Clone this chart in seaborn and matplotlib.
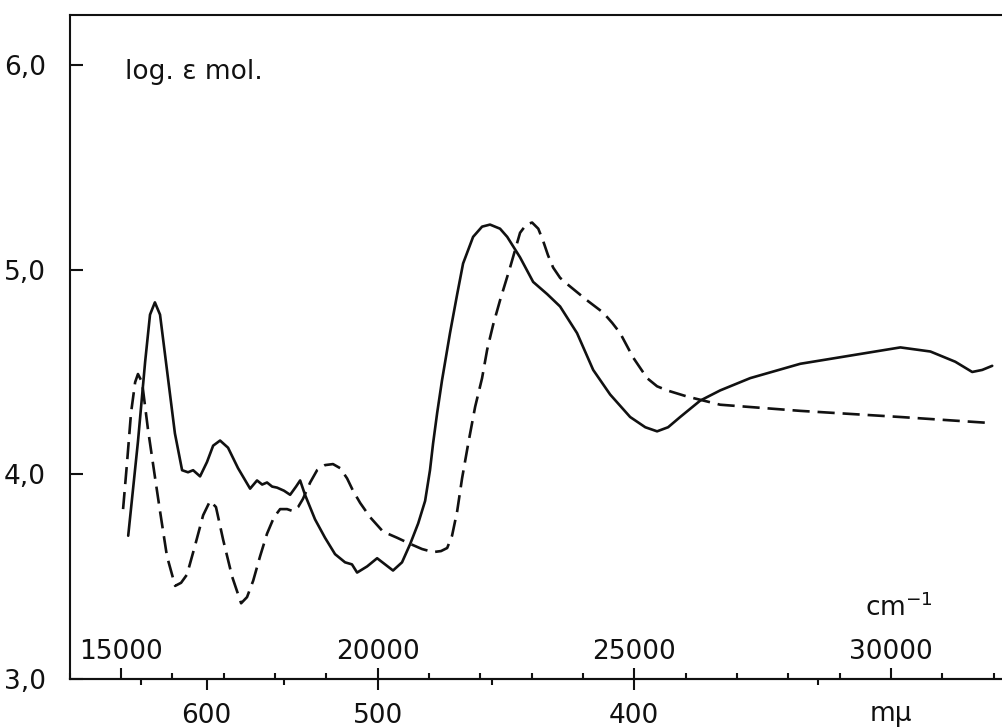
import numpy as np
import pandas as pd
import matplotlib
matplotlib.use("Agg")
import matplotlib.pyplot as plt
from matplotlib.ticker import FixedLocator
import seaborn as sns

# ---- data (wavenumber in cm^-1, log epsilon) ----
solid_nu = [15140, 15330, 15470, 15565, 15660, 15760, 15900, 16050, 16190, 16305,
            16405, 16540, 16675, 16795, 16930, 17085, 17280, 17515, 17650, 17750,
            17845, 17945, 18040, 18175, 18295, 18410, 18490, 18585, 18780, 18975,
            19170, 19365, 19500, 19600, 19795, 19990, 20145, 20300, 20475, 20635,
            20790, 20925, 21020, 21080, 21160, 21255, 21410, 21550, 21665, 21860,
            22035, 22190, 22385, 22525, 22775, 23030, 23305, 23555, 23885, 24200,
            24530, 24920, 25215, 25445, 25660, 25895, 26285, 26675, 27260, 28235,
            29210, 30185, 30770, 31255, 31585, 31780, 31975]
solid_v = [3.70, 4.16, 4.55, 4.78, 4.84, 4.78, 4.50, 4.20, 4.02, 4.01,
           4.02, 3.99, 4.06, 4.14, 4.165, 4.13, 4.03, 3.93, 3.97, 3.95,
           3.96, 3.94, 3.935, 3.92, 3.90, 3.94, 3.97, 3.90, 3.78, 3.69,
           3.61, 3.57, 3.56, 3.52, 3.55, 3.59, 3.56, 3.53, 3.57, 3.66,
           3.76, 3.87, 4.02, 4.15, 4.30, 4.46, 4.69, 4.88, 5.03, 5.16,
           5.21, 5.22, 5.20, 5.16, 5.06, 4.94, 4.88, 4.82, 4.69, 4.51,
           4.39, 4.28, 4.23, 4.21, 4.23, 4.28, 4.36, 4.41, 4.47, 4.54,
           4.58, 4.62, 4.60, 4.55, 4.50, 4.51, 4.53]

dashed_nu = [15040, 15115, 15195, 15275, 15330, 15410, 15525, 15665, 15760, 15895,
             16055, 16170, 16285, 16440, 16600, 16735, 16850, 16990, 17165, 17340,
             17455, 17575, 17710, 17845, 17980, 18100, 18235, 18350, 18450, 18545,
             18685, 18820, 18975, 19130, 19270, 19405, 19520, 19660, 19855, 20105,
             20380, 20635, 20865, 21080, 21235, 21355, 21450, 21550, 21645, 21765,
             21900, 22035, 22135, 22250, 22385, 22580, 22775, 22895, 23010, 23130,
             23225, 23320, 23420, 23555, 23690, 23885, 24080, 24395, 24570, 24725,
             24980, 25250, 25445, 25640, 26030, 26675, 28235, 30185, 31975]
dashed_v = [3.83, 4.05, 4.30, 4.45, 4.49, 4.45, 4.22, 3.98, 3.82, 3.60,
            3.455, 3.47, 3.51, 3.65, 3.80, 3.87, 3.84, 3.68, 3.50, 3.37,
            3.40, 3.48, 3.60, 3.71, 3.79, 3.83, 3.83, 3.82, 3.84, 3.88,
            3.96, 4.02, 4.045, 4.05, 4.03, 3.98, 3.92, 3.86, 3.79, 3.72,
            3.69, 3.66, 3.635, 3.62, 3.625, 3.64, 3.70, 3.82, 3.98, 4.15,
            4.33, 4.47, 4.61, 4.73, 4.85, 5.01, 5.18, 5.22, 5.23, 5.20,
            5.14, 5.07, 5.01, 4.96, 4.93, 4.89, 4.85, 4.79, 4.74, 4.69,
            4.57, 4.47, 4.43, 4.41, 4.38, 4.34, 4.31, 4.28, 4.25]

# ticks / labels
y_ticks = [3.0, 4.0, 5.0, 6.0]
y_tick_labels = ["3,0", "4,0", "5,0", "6,0"]
nu_major = [15000, 20000, 25000, 30000]
nu_major_labels = ["15000", "20000", "25000", "30000"]
nu_minor = [n for n in range(14000, 32001, 1000) if n not in nu_major]
lam_major = [600, 500, 400]
lam_major_labels = ["600", "500", "400"]
lam_minor = [650, 550, 450, 350]
y_title = "log. ε mol."
nu_unit = "cm$^{-1}$"
lam_unit = "mμ"

# ---- style ----
sns.set_theme(style="white")
plt.rcParams["font.family"] = ["DejaVu Sans"]
plt.rcParams["axes.linewidth"] = 1.5
FS = 19
INK = "#111111"

fig = plt.figure(figsize=(10.02, 7.27), dpi=100)
ax = fig.add_axes([69.7 / 1002, 48 / 727, 931.5 / 1002, 664 / 727])

df = pd.concat([
    pd.DataFrame({"nu": solid_nu, "loge": solid_v, "series": "solid"}),
    pd.DataFrame({"nu": dashed_nu, "loge": dashed_v, "series": "dashed"}),
])
sns.lineplot(data=df, x="nu", y="loge", style="series",
             dashes={"solid": "", "dashed": (6.5, 3)},
             color=INK, linewidth=1.9, sort=False, estimator=None,
             legend=False, ax=ax)

ax.set_xlim(14000, 32150)
ax.set_ylim(3.0, 6.244)
ax.set_xlabel("")
ax.set_ylabel("")

for s in ["left", "bottom", "top"]:
    ax.spines[s].set_visible(True)
    ax.spines[s].set_color(INK)
    ax.spines[s].set_linewidth(1.5)
ax.spines["right"].set_visible(False)

# y axis
ax.set_yticks(y_ticks, labels=y_tick_labels)
ax.yaxis.set_ticks_position("left")
ax.tick_params(axis="y", which="major", direction="in", length=9, width=1.5,
               pad=17, labelsize=FS, colors=INK)

# wavenumber ticks (inside, labels above the axis)
ax.set_xticks(nu_major, labels=nu_major_labels)
ax.xaxis.set_minor_locator(FixedLocator(nu_minor))
ax.xaxis.set_ticks_position("bottom")
ax.tick_params(axis="x", which="major", direction="in", length=8, width=1.5,
               pad=-28.5, labelsize=FS, colors=INK)
ax.tick_params(axis="x", which="minor", direction="in", length=4, width=1.5,
               colors=INK)


def inv(x):
    x = np.asarray(x, dtype=float)
    with np.errstate(divide="ignore", invalid="ignore"):
        return 1e7 / x


# wavelength ticks (outside, below the axis)
secx = ax.secondary_xaxis("bottom", functions=(inv, inv))
secx.set_xticks(lam_major, labels=lam_major_labels)
secx.xaxis.set_minor_locator(FixedLocator(lam_minor))
secx.tick_params(axis="x", which="major", direction="out", length=8, width=1.5,
                 pad=9, labelsize=FS, colors=INK)
secx.tick_params(axis="x", which="minor", direction="out", length=4, width=1.5,
                 colors=INK)
secx.spines["bottom"].set_linewidth(1.5)
secx.spines["bottom"].set_color(INK)

# texts
ax.text(15080, 5.965, y_title, fontsize=FS, color=INK, ha="left", va="center")
ax.annotate(nu_unit, xy=(30150, 0), xycoords=("data", "axes fraction"),
            xytext=(0, 51), textcoords="offset points",
            ha="center", va="center", fontsize=FS, color=INK)
ax.annotate(lam_unit, xy=(30000, 0), xycoords=("data", "axes fraction"),
            xytext=(0, -25), textcoords="offset points",
            ha="center", va="center", fontsize=FS, color=INK)

fig.savefig("out.png", dpi=100, facecolor="white")
